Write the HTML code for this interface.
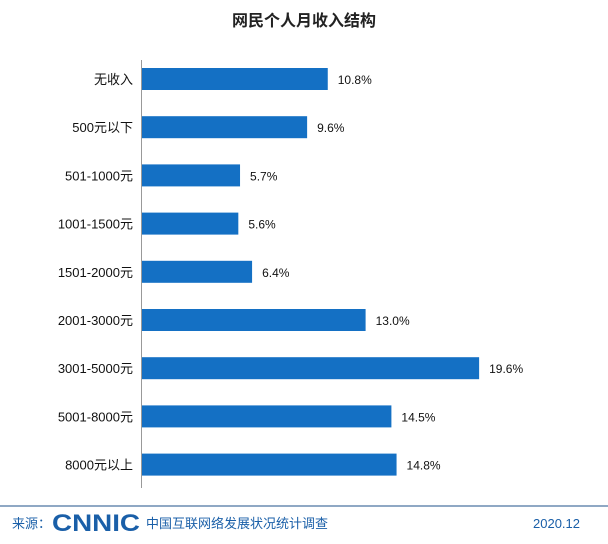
<!DOCTYPE html>
<html><head><meta charset="utf-8"><style>
body{margin:0;width:608px;height:544px;background:#fff;overflow:hidden;font-family:"Liberation Sans","Noto Sans CJK SC",sans-serif;}
</style></head><body>
<svg width="608" height="544" style="position:absolute;left:0;top:0">
<text x="304" y="26" text-anchor="middle" font-size="16" font-weight="bold" fill="#222">网民个人月收入结构</text>
<line x1="141.5" y1="60" x2="141.5" y2="488" stroke="#999" stroke-width="1"/>
<g id="bars"></g>
<line x1="0" y1="506" x2="608" y2="506" stroke="#8fa8c4" stroke-width="2"/>
<text x="12" y="528" font-size="13" fill="#1a5fa8">来源：</text>
<text x="52" y="531" font-size="24" font-weight="bold" fill="#1a5fa8" textLength="88" lengthAdjust="spacingAndGlyphs">CNNIC</text>
<text x="146" y="528" font-size="13" fill="#1a5fa8">中国互联网络发展状况统计调查</text>
<text x="580" y="528" font-size="13" fill="#1a5fa8" text-anchor="end">2020.12</text>
</svg>
<script>
const categories=["无收入","500元以下","501-1000元","1001-1500元","1501-2000元","2001-3000元","3001-5000元","5001-8000元","8000元以上"];
const values=[10.8,9.6,5.7,5.6,6.4,13.0,19.6,14.5,14.8];
const x0=142,scale=17.2,y0=79,step=48.2,bh=22;
const xs=v=>x0+v*scale, ys=i=>y0+i*step;
const g=document.getElementById('bars');const NS='http://www.w3.org/2000/svg';
categories.forEach((c,i)=>{
 const r=document.createElementNS(NS,'rect');
 r.setAttribute('x',x0);r.setAttribute('y',ys(i)-bh/2);r.setAttribute('width',xs(values[i])-x0);r.setAttribute('height',bh);r.setAttribute('fill','#1470c4');
 
 
 g.appendChild(r);
 const l=document.createElementNS(NS,'text');
 l.setAttribute('x',133);l.setAttribute('y',ys(i)+5);l.setAttribute('text-anchor','end');l.setAttribute('font-size','13');l.setAttribute('fill','#111');l.textContent=c;
 
 
 g.appendChild(l);
 const v=document.createElementNS(NS,'text');
 v.setAttribute('x',xs(values[i])+10);v.setAttribute('y',ys(i)+5);v.setAttribute('font-size','12');v.setAttribute('fill','#111');v.textContent=values[i].toFixed(1)+'%';
 
 
 g.appendChild(v);
});
</script>
</body></html>
